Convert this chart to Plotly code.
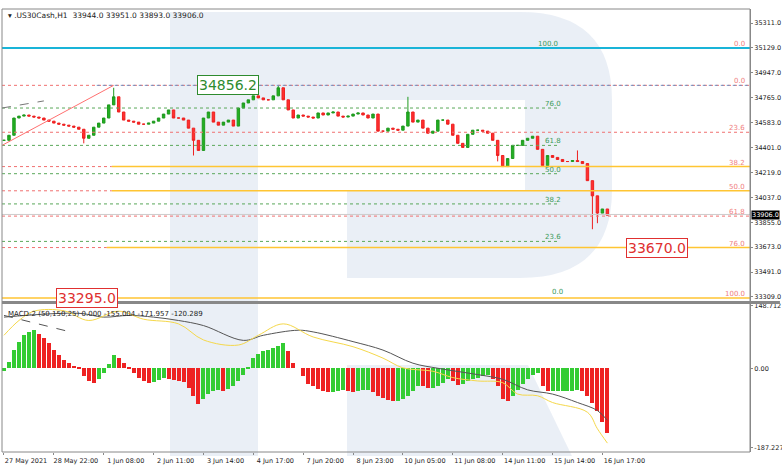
import plotly.graph_objects as go
from plotly.subplots import make_subplots

# ---------------- data ----------------
closes = [34454,34491,34617,34631,34639,34631,34624,34617,34602,34594,34580,34572,34565,34558,34550,34535,34469,34491,34550,34580,
          34617,34713,34772,34661,34602,34594,34587,34572,34572,34580,34594,34617,34646,34676,34617,34617,34602,34543,34454,34380,
          34617,34661,34587,34565,34587,34602,34558,34690,34727,34750,34779,34764,34750,34750,34779,34838,34750,34676,34617,34639,
          34631,34624,34617,34654,34639,34654,34661,34631,34624,34631,34646,34654,34639,34617,34646,34521,34521,34543,34535,34528,
          34558,34661,34587,34602,34543,34506,34521,34602,34602,34572,34491,34432,34402,34498,34528,34528,34521,34506,34454,34343,
          34262,34321,34417,34417,34454,34469,34484,34388,34269,34343,34329,34314,34299,34299,34306,34299,34284,34159,34048,33922,
          33952,33907]
spike_highs = {22: 34838, 55: 34853, 81: 34772, 115: 34380, 104: 34440}
spike_lows = {38: 34343, 16: 34432, 118: 33804, 119: 33848, 99: 34300}

macd_hist = [-7,16,43,63,78,86,90,82,71,59,43,32,19,12,6,1,-19,-30,-34,-26,
             -11,9,32,24,12,2,-11,-22,-30,-34,-33,-28,-22,-26,-28,-30,-33,-46,-65,-84,
             -73,-61,-53,-52,-53,-50,-42,-30,-15,1,24,34,40,43,47,53,59,40,12,0,
             -19,-36,-43,-50,-53,-55,-55,-53,-52,-53,-55,-53,-52,-52,-57,-65,-71,-75,-77,-77,
             -73,-65,-53,-42,-43,-46,-46,-43,-34,-26,-30,-40,-38,-30,-26,-22,-19,-15,-26,-42,
             -73,-77,-65,-51,-38,-26,-15,-11,-42,-53,-53,-53,-53,-53,-53,-51,-53,-65,-81,-100,
             -127,-154]
black_k = [0,15,20,25,30,35,40,48,52,59,62,70,76,82,87,95,100,105,110,115,119,121]
black_v = [121,130,121,125,121,113,101,66,78,90,86,63,43,12,0,-15,-26,-51,-61,-81,-100,-123]
yellow_k = [0,3,6,12,17,23,28,35,40,47,51,56,62,70,76,80,86,90,95,100,103,107,110,117,119,121]
yellow_v = [78,113,135,136,113,135,116,105,67,55,78,105,74,51,24,1,-7,-22,-30,-34,-61,-65,-81,-104,-143,-177]

date_labels = ["27 May 2021","28 May 22:00","1 Jun 08:00","2 Jun 11:00","3 Jun 14:00","4 Jun 17:00","7 Jun 20:00",
               "8 Jun 23:00","10 Jun 05:00","11 Jun 08:00","14 Jun 11:00","15 Jun 14:00","16 Jun 17:00"]
price_ticks = [35311,35129,34947,34765,34583,34401,34219,34037,33855,33673,33491,33309]

fib_levels = [
    (35129, "100.0", "green_lbl", None, None, 109, "#3a9a5a"),
    (35129, "0.0", "cyan", -0.4, 149.6, 149, "#f08080"),
    (34856, "0.0", "reddot", -0.4, 149.6, 149, "#f08080"),
    (34690, "76.0", "greendot", -0.4, 111, 110, "#3a9a5a"),
    (34513, "23.6", "reddot", -0.4, 149.6, 149, "#f08080"),
    (34417, "61.8", "greendot", -0.4, 111, 110, "#3a9a5a"),
    (34262, "38.2", "orange", 21.6, 149.6, 149, "#f08080"),
    (34210, "50.0", "greendot", -0.4, 111, 110, "#3a9a5a"),
    (34085, "50.0", "orange", 21.6, 149.6, 149, "#f08080"),
    (33989, "38.2", "greendot", -0.4, 111, 110, "#3a9a5a"),
    (33900, "61.8", "reddot", -0.4, 149.6, 149, "#f08080"),
    (33715, "23.6", "greendot", -0.4, 111, 110, "#3a9a5a"),
    (33670, "76.0", "orange", 20.6, 149.6, 149, "#f08080"),
    (33318, "0.0", "green_lbl", None, None, 111, "#3a9a5a"),
    (33302, "100.0", "orange", -0.4, 149.6, 149, "#f08080"),
]

# ---------------- figure ----------------
W, H = 782, 468
ML, MR, MT, MB = 2, 32, 9, 16
PW, PH = W - ML - MR, H - MT - MB
def px(x): return (x - ML) / PW
def py(y): return (H - MB - y) / PH

fig = make_subplots(rows=2, cols=1, shared_xaxes=True)
n = len(closes)
ks = list(range(n))
opens = [closes[0]] + closes[:-1]
highs = [max(o, c) for o, c in zip(opens, closes)]
lows = [min(o, c) for o, c in zip(opens, closes)]
for k, v in spike_highs.items(): highs[k] = max(highs[k], v)
for k, v in spike_lows.items(): lows[k] = min(lows[k], v)

fig.add_trace(go.Candlestick(x=ks, open=opens, high=highs, low=lows, close=closes,
    increasing=dict(line=dict(color="#1f9a1f", width=1), fillcolor="#22b022"),
    decreasing=dict(line=dict(color="#ee2020", width=1), fillcolor="#ff3030"),
    whiskerwidth=0, showlegend=False, hoverinfo="skip"), row=1, col=1)

hcol = ["#ee2222" if i > 0 and macd_hist[i] < macd_hist[i-1] else "#33cc33" for i in range(len(macd_hist))]
fig.add_trace(go.Bar(x=ks, y=macd_hist, marker=dict(color=hcol, line=dict(width=0)), width=0.8,
                     showlegend=False), row=2, col=1)
fig.add_trace(go.Scatter(x=black_k, y=black_v, mode="lines", line=dict(color="#555", width=1, shape="spline"),
                         showlegend=False), row=2, col=1)
fig.add_trace(go.Scatter(x=yellow_k, y=yellow_v, mode="lines", line=dict(color="#f5d84a", width=1, shape="spline"),
                         showlegend=False), row=2, col=1)
fig.add_trace(go.Scatter(x=[0, 14], y=[125, 84], mode="lines", line=dict(color="#555", width=1, dash="dash"),
                         showlegend=False), row=2, col=1)

shapes = []
wm = "rgba(225,232,242,0.7)"
shapes.append(dict(type="rect", xref="paper", yref="paper", x0=px(170), x1=px(258), y0=py(456), y1=py(12),
                   fillcolor=wm, line=dict(width=0), layer="below"))
def P(x, y): return f"{px(x):.4f},{py(y):.4f}"
bowl = (f"M{P(258,12)} L{P(520,12)} Q{P(612,12)} {P(612,100)} L{P(612,190)} Q{P(612,278)} {P(520,278)} "
        f"L{P(347,278)} L{P(347,190)} L{P(525,190)} L{P(525,100)} L{P(258,100)} Z")
shapes.append(dict(type="path", xref="paper", yref="paper", path=bowl, fillcolor=wm, line=dict(width=0), layer="below"))
leg = f"M{P(347,365)} L{P(528,365)} L{P(572,456)} L{P(347,456)} Z"
shapes.append(dict(type="path", xref="paper", yref="paper", path=leg, fillcolor=wm, line=dict(width=0), layer="below"))

anns = []
for price, lbl, style, k0, k1, lk, lc in fib_levels:
    if style == "cyan":
        shapes.append(dict(type="line", xref="x", yref="y", x0=k0, x1=k1, y0=price, y1=price,
                           line=dict(color="#19b4d8", width=2)))
    elif style == "reddot":
        shapes.append(dict(type="line", xref="x", yref="y", x0=k0, x1=k1, y0=price, y1=price,
                           line=dict(color="#f07070", width=1, dash="dot")))
    elif style == "greendot":
        shapes.append(dict(type="line", xref="x", yref="y", x0=k0, x1=k1, y0=price, y1=price,
                           line=dict(color="#5aa85a", width=1, dash="dot")))
    elif style == "orange":
        shapes.append(dict(type="line", xref="x", yref="y", x0=k0, x1=k1, y0=price, y1=price,
                           line=dict(color="#ffc533", width=1.5)))
        shapes.append(dict(type="line", xref="x", yref="y", x0=-0.4, x1=k0, y0=price, y1=price,
                           line=dict(color="#f07070", width=1, dash="dot")))
    anns.append(dict(x=lk, y=price, xref="x", yref="y", text=lbl, showarrow=False, yanchor="bottom",
                     xanchor="right" if lc == "#f08080" else "center",
                     font=dict(size=7, color=lc, family="DejaVu Sans"), yshift=-2))
shapes.append(dict(type="line", xref="x", yref="y", x0=18.6, x1=149.6, y0=34856, y1=34856,
                   line=dict(color="#7090c0", width=1, dash="dot")))
shapes.append(dict(type="line", xref="x", yref="y", x0=-0.4, x1=149.6, y0=33912, y1=33912,
                   line=dict(color="#cccccc", width=1)))
shapes.append(dict(type="line", xref="x", yref="y", x0=-0.4, x1=22, y0=34417, y1=34856,
                   line=dict(color="#ff7070", width=1)))
shapes.append(dict(type="line", xref="x", yref="y", x0=-0.4, x1=8, y0=34690, y1=34742,
                   line=dict(color="#777", width=1, dash="dash")))
shapes.append(dict(type="line", xref="paper", yref="paper", x0=0, x1=1.04, y0=py(302.5), y1=py(302.5),
                   line=dict(color="#888", width=3)))
shapes.append(dict(type="rect", xref="paper", yref="paper", x0=0, x1=1, y0=0, y1=1,
                   line=dict(color="#888", width=1)))

def box(text, k, price, col, size=14):
    anns.append(dict(x=k, y=price, xref="x", yref="y", text=text, showarrow=False,
                     font=dict(size=size, color=col, family="DejaVu Sans"), bgcolor="white",
                     bordercolor=col, borderwidth=1, borderpad=1))
box("34856.2", 45, 34856, "#2e8b2e")
box("33670.0", 131, 33670, "#e03030")
box("33295.0", 16.6, 33302, "#e03030")
anns.append(dict(x=1.0, y=33906, xref="paper", yref="y", text="33906.0", showarrow=False, xanchor="left",
                 font=dict(size=6.5, color="white", family="DejaVu Sans"), bgcolor="black", xshift=1, borderpad=0))
anns.append(dict(x=0.005, y=1.0, xref="paper", yref="paper", text="▾ .US30Cash,H1  33944.0 33951.0 33893.0 33906.0",
                 showarrow=False, xanchor="left", yanchor="top", font=dict(size=7.5, color="#222", family="DejaVu Sans")))
anns.append(dict(x=0.005, y=py(308), xref="paper", yref="paper",
                 text="MACD-2 (50,150,25) 0.000 -155.004 -171.957 -120.289",
                 showarrow=False, xanchor="left", yanchor="top", font=dict(size=7, color="#222", family="DejaVu Sans")))

fig.update_layout(width=W, height=H, margin=dict(l=ML, r=MR, t=MT, b=MB, autoexpand=False), plot_bgcolor="white",
                  paper_bgcolor="white", shapes=shapes, annotations=anns, bargap=0,
                  font=dict(family="DejaVu Sans", size=6.5, color="#222"))
fig.update_xaxes(range=[-0.4, 149.6], showgrid=False, zeroline=False, rangeslider_visible=False)
fig.update_xaxes(showticklabels=False, row=1, col=1)
fig.update_xaxes(tickmode="array", tickvals=list(range(0, 121, 10)), ticktext=date_labels,
                 ticks="outside", ticklen=2, tickcolor="#888", ticklabelshift=22, ticklabelstandoff=0,
                 tickfont=dict(size=6.5), row=2, col=1)
fig.update_yaxes(domain=[py(302), 1], range=[33272, 35414], side="right", tickmode="array",
                 tickvals=price_ticks, ticktext=[f"{v}.0" for v in price_ticks], showgrid=False,
                 ticks="outside", ticklen=2, tickcolor="#888", showline=True, linecolor="#888",
                 tickfont=dict(size=6.5), row=1, col=1)
fig.update_yaxes(domain=[0, py(304)], range=[-198, 152], side="right", tickmode="array",
                 tickvals=[148.712, 0, -187.227], ticktext=["148.712", "0.00", "-187.227"], showgrid=False,
                 zeroline=False, ticks="outside", ticklen=2, tickcolor="#888", showline=True, linecolor="#888",
                 tickfont=dict(size=6.5), row=2, col=1)
fig.write_html("out.html", config={"displayModeBar": False},
               post_script="document.body.style.margin='0';document.body.style.overflow='hidden';")
